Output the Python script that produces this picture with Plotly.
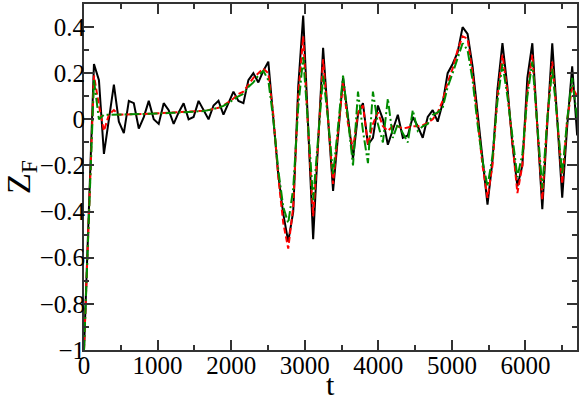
"""
Z_F against t: three runs compared (black solid, red dashed, green dash-dot).
"""

import plotly.graph_objects as go

# sampling interval (about 5 px per sample)
DT = 67.7

z_black = [
    -1.0, -0.38, 0.24, 0.17, -0.15, 0.0, 0.15, -0.01, -0.06, 0.08,
    0.07, -0.04, 0.01, 0.08, 0.0, -0.02, 0.07, 0.04, -0.02, 0.03,
    0.07, 0.0, 0.01, 0.08, 0.04, 0.0, 0.06, 0.08, 0.02, 0.07,
    0.12, 0.08, 0.07, 0.17, 0.2, 0.16, 0.21, 0.25, 0.02, -0.24,
    -0.41, -0.53, -0.40, 0.14, 0.45, -0.05, -0.52, -0.1, 0.31, 0.0,
    -0.31, -0.07, 0.18, 0.01, -0.17, 0.02, 0.07, -0.11, -0.08, 0.06,
    0.0, -0.11, -0.04, 0.02, -0.08, -0.07, 0.01, -0.03, -0.08, 0.01,
    0.04, -0.01, 0.07, 0.2, 0.24, 0.29, 0.40, 0.37, 0.23, 0.03,
    -0.17, -0.37, -0.18, 0.13, 0.33, 0.14, -0.11, -0.29, -0.2, 0.18,
    0.33, -0.03, -0.39, -0.02, 0.33, 0.0, -0.34, -0.03, 0.23, -0.07,
]

z_red = [
    -1.0, -0.4, 0.19, 0.06, -0.05, 0.02, 0.04, 0.02, 0.02, 0.02,
    0.022, 0.022, 0.023, 0.024, 0.025, 0.025, 0.026, 0.027, 0.028, 0.029,
    0.03, 0.031, 0.033, 0.035, 0.037, 0.04, 0.045, 0.05, 0.06, 0.075,
    0.09, 0.11, 0.12, 0.15, 0.18, 0.2, 0.22, 0.2, 0.02, -0.25,
    -0.45, -0.56, -0.38, 0.1, 0.36, -0.05, -0.42, -0.1, 0.26, 0.0,
    -0.28, -0.05, 0.16, -0.02, -0.13, 0.03, 0.06, -0.11, -0.02, 0.03,
    -0.03, -0.05, -0.03, -0.03, -0.04, -0.035, -0.03, -0.03, -0.025, -0.015,
    0.0, 0.03, 0.08, 0.16, 0.22, 0.3, 0.36, 0.35, 0.2, 0.0,
    -0.2, -0.34, -0.2, 0.1, 0.28, 0.12, -0.1, -0.32, -0.2, 0.12,
    0.28, -0.05, -0.35, 0.0, 0.25, 0.0, -0.28, 0.0, 0.14, 0.1,
]

z_green = [
    -1.0, -0.42, 0.17, 0.0, 0.02, 0.02, 0.02, 0.02, 0.02, 0.02,
    0.021, 0.022, 0.023, 0.024, 0.024, 0.025, 0.026, 0.027, 0.028, 0.029,
    0.03, 0.031, 0.032, 0.034, 0.036, 0.04, 0.044, 0.05, 0.058, 0.07,
    0.085, 0.1, 0.11, 0.14, 0.16, 0.19, 0.21, 0.17, 0.0, -0.22,
    -0.38, -0.45, -0.3, 0.05, 0.27, -0.03, -0.35, -0.08, 0.19, 0.0,
    -0.24, -0.03, 0.19, 0.0, -0.2, 0.12, -0.05, -0.19, 0.12, -0.02,
    -0.1, 0.09, -0.08, -0.02, -0.06, -0.1, 0.04, -0.05, -0.03, -0.02,
    0.02, 0.03, 0.05, 0.14, 0.2, 0.27, 0.33, 0.3, 0.17, -0.02,
    -0.18, -0.29, -0.16, 0.08, 0.24, 0.1, -0.08, -0.25, -0.15, 0.1,
    0.25, -0.03, -0.3, 0.0, 0.22, 0.0, -0.24, 0.0, 0.18, 0.0,
]

t = [i * DT for i in range(len(z_black))]

SERIF = "Liberation Serif, Times New Roman, serif"

fig = go.Figure()

fig.add_trace(go.Scatter(
    x=t, y=z_black, mode="lines",
    line=dict(color="black", width=2),
))
fig.add_trace(go.Scatter(
    x=t, y=z_red, mode="lines",
    line=dict(color="#ff0000", width=2, dash="6px,3px"),
))
fig.add_trace(go.Scatter(
    x=t, y=z_green, mode="lines",
    line=dict(color="#008c00", width=2, dash="10px,3px,2px,3px"),
))

axis_common = dict(
    showline=True, linecolor="#333", linewidth=2, mirror="allticks",
    ticks="inside", ticklen=10, tickwidth=1.5, tickcolor="#333",
    showgrid=False, zeroline=False,
    tickfont=dict(family=SERIF, size=25, color="black"),
)

fig.update_xaxes(
    range=[0, 6700], dtick=1000, tick0=0,
    minor=dict(dtick=500, ticks="inside", ticklen=5, tickcolor="#333"),
    ticklabelstandoff=-8,
    **axis_common,
)
fig.update_yaxes(
    range=[-1, 0.5], dtick=0.2, tick0=0,
    minor=dict(dtick=0.1, ticks="inside", ticklen=5, tickcolor="#333"),
    ticklabelstandoff=-8,
    title=dict(text="Z<sub>F</sub>", font=dict(family=SERIF, size=34, color="black"), standoff=2),
    **axis_common,
)

# x title placed by hand so it sits right under the tick labels
fig.add_annotation(
    text="t", xref="paper", yref="paper", x=0.5, y=-0.1,
    xanchor="center", yanchor="middle", showarrow=False,
    font=dict(family=SERIF, size=30, color="black"),
)

fig.update_layout(
    width=581, height=397,
    margin=dict(l=84, r=3, t=2, b=47),
    font=dict(family=SERIF, color="black"),
    plot_bgcolor="white", paper_bgcolor="white",
    showlegend=False,
)

# page margin off so the figure sits at the window's top-left corner
fig.write_html(
    "out.html",
    config={"displayModeBar": False},
    post_script="document.body.style.margin='0px';",
)
